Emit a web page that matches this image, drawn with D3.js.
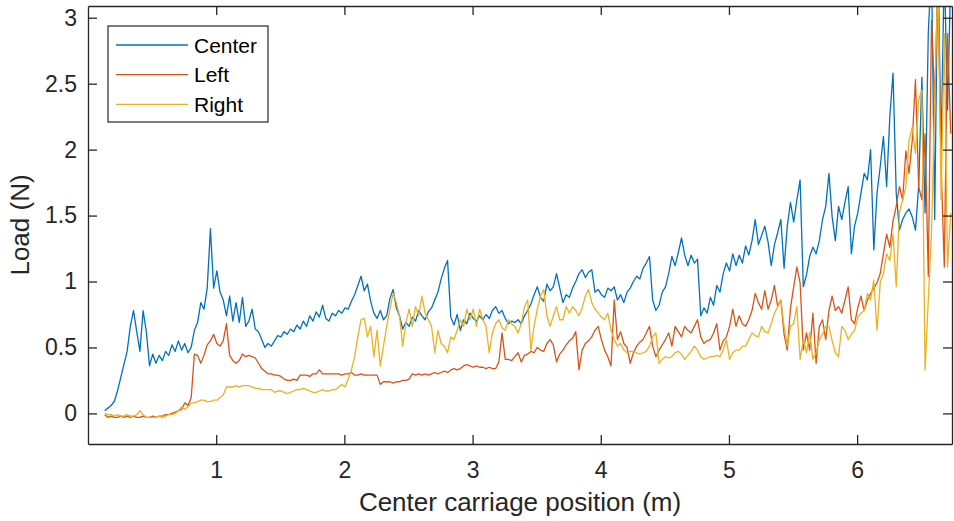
<!DOCTYPE html>
<html>
<head>
<meta charset="utf-8">
<script src="https://cdn.jsdelivr.net/npm/d3@7"></script>
<style>
  body { margin: 0; background: #fff; }
  svg { display: block; font-family: "Liberation Sans", Arial, sans-serif; }
</style>
</head>
<body>
<div id="main-container"></div>
<script>
// Sampling grid along the carriage (m)
const X_START = 0.13;
const X_STEP = 0.025;

// Load (N), one value per grid step
const CENTER = [
  0.02,0.04,0.06,0.09,0.17,0.27,0.37,0.47,0.66,0.78,
  0.62,0.47,0.78,0.62,0.36,0.45,0.38,0.44,0.40,0.47,
  0.44,0.52,0.47,0.55,0.48,0.53,0.46,0.50,0.63,0.69,
  0.84,0.79,0.95,1.40,0.95,1.08,0.92,0.86,0.74,0.89,
  0.70,0.84,0.69,0.88,0.66,0.70,0.79,0.64,0.62,0.56,
  0.50,0.53,0.51,0.55,0.59,0.58,0.62,0.60,0.64,0.62,
  0.67,0.64,0.70,0.66,0.74,0.70,0.77,0.73,0.82,0.72,
  0.70,0.76,0.74,0.78,0.76,0.80,0.79,0.85,0.90,0.97,
  1.04,0.93,0.98,0.85,0.76,0.72,0.78,0.71,0.74,0.87,
  0.94,0.80,0.74,0.64,0.69,0.66,0.73,0.70,0.78,0.74,
  0.71,0.77,0.80,0.86,0.92,1.02,1.10,1.16,0.73,0.67,
  0.75,0.63,0.71,0.68,0.76,0.72,0.70,0.74,0.71,0.75,
  0.72,0.78,0.81,0.76,0.78,0.72,0.68,0.70,0.69,0.71,
  0.68,0.74,0.78,0.83,0.90,0.96,0.88,0.85,0.98,0.93,
  0.96,1.06,0.95,0.84,0.90,0.88,0.95,1.00,1.06,1.09,
  1.03,1.07,1.09,0.92,0.94,0.90,0.88,0.95,0.93,0.96,
  0.86,0.90,0.84,0.92,0.95,1.00,1.04,1.02,1.10,1.14,
  1.19,0.86,0.78,0.82,0.92,0.96,1.06,1.19,1.12,1.22,
  1.33,1.20,1.12,1.20,1.14,1.17,0.74,0.80,0.76,0.88,
  0.82,0.97,0.92,1.06,1.14,1.08,1.21,1.12,1.20,1.14,
  1.27,1.20,1.31,1.47,1.28,1.35,1.42,1.30,1.12,1.28,
  1.37,1.47,1.10,1.42,1.60,1.45,1.62,1.77,0.96,1.05,
  1.19,1.26,1.21,1.31,1.47,1.57,1.82,1.49,1.31,1.57,
  1.47,1.60,1.72,1.21,1.42,1.52,1.67,1.82,1.77,2.00,
  1.24,1.67,1.87,2.10,1.72,2.25,2.58,1.67,1.39,1.47,
  1.52,1.55,1.49,1.39,1.72,2.55,1.52,2.88,3.40,1.47,
  3.50,2.00,3.40,2.30,3.30
];
const LEFT = [
  -0.01,-0.03,-0.02,-0.03,-0.03,-0.02,-0.03,-0.02,-0.03,-0.02,
  -0.03,-0.03,-0.02,-0.03,-0.03,-0.02,-0.03,-0.02,-0.02,-0.01,
  -0.01,0.00,0.01,0.02,0.03,0.08,0.06,0.12,0.45,0.44,
  0.38,0.44,0.52,0.55,0.60,0.53,0.51,0.55,0.68,0.44,
  0.40,0.38,0.40,0.45,0.43,0.44,0.43,0.42,0.38,0.34,
  0.32,0.30,0.30,0.29,0.29,0.28,0.26,0.25,0.25,0.26,
  0.25,0.29,0.29,0.29,0.28,0.30,0.30,0.33,0.30,0.30,
  0.30,0.30,0.30,0.30,0.29,0.30,0.30,0.31,0.29,0.29,
  0.30,0.29,0.29,0.29,0.29,0.29,0.22,0.24,0.24,0.24,
  0.23,0.24,0.24,0.25,0.25,0.26,0.30,0.29,0.30,0.29,
  0.30,0.29,0.30,0.31,0.30,0.31,0.32,0.31,0.33,0.34,
  0.33,0.34,0.36,0.37,0.36,0.35,0.36,0.35,0.35,0.34,
  0.35,0.34,0.34,0.39,0.61,0.41,0.41,0.40,0.43,0.46,
  0.39,0.44,0.45,0.47,0.46,0.50,0.48,0.47,0.53,0.56,
  0.52,0.39,0.45,0.48,0.52,0.55,0.57,0.62,0.33,0.48,
  0.53,0.55,0.58,0.63,0.66,0.56,0.48,0.43,0.36,0.86,
  0.56,0.62,0.53,0.50,0.38,0.46,0.51,0.54,0.56,0.61,
  0.66,0.51,0.43,0.48,0.52,0.56,0.61,0.51,0.66,0.62,
  0.58,0.66,0.63,0.61,0.66,0.71,0.58,0.53,0.55,0.56,
  0.61,0.68,0.48,0.55,0.58,0.66,0.79,0.66,0.74,0.68,
  0.66,0.71,0.78,0.91,0.84,0.79,0.93,0.79,0.86,0.97,
  0.81,0.86,0.60,0.48,0.80,0.96,1.11,0.99,0.48,0.61,
  0.48,0.76,0.38,0.66,0.71,0.56,0.78,0.89,0.78,0.81,
  0.76,0.86,0.96,0.71,0.68,0.80,0.89,0.78,0.86,0.91,
  0.95,0.99,1.06,1.21,1.36,1.26,1.46,1.57,1.72,1.62,
  1.99,1.82,2.07,2.53,1.72,1.62,2.12,1.04,2.98,2.38,
  3.30,1.87,1.11,2.88,2.12
];
const RIGHT = [
  0.00,-0.01,-0.01,-0.02,-0.01,-0.02,-0.02,-0.01,-0.02,-0.02,
  -0.01,0.02,-0.01,-0.03,-0.03,-0.03,-0.03,-0.02,-0.03,-0.02,
  -0.01,-0.01,0.00,0.02,0.05,0.03,0.05,0.08,0.08,0.09,
  0.10,0.10,0.09,0.09,0.10,0.10,0.12,0.14,0.20,0.20,
  0.20,0.21,0.20,0.21,0.21,0.21,0.20,0.19,0.19,0.18,
  0.18,0.18,0.18,0.16,0.17,0.17,0.16,0.15,0.16,0.17,
  0.18,0.18,0.19,0.18,0.17,0.16,0.16,0.17,0.18,0.17,
  0.17,0.18,0.18,0.20,0.22,0.20,0.26,0.33,0.43,0.58,
  0.71,0.72,0.58,0.66,0.43,0.63,0.36,0.51,0.66,0.79,
  0.91,0.84,0.74,0.51,0.69,0.79,0.66,0.81,0.74,0.89,
  0.76,0.71,0.66,0.46,0.63,0.53,0.51,0.46,0.58,0.56,
  0.63,0.71,0.66,0.79,0.71,0.79,0.66,0.79,0.71,0.66,
  0.46,0.61,0.68,0.71,0.65,0.63,0.71,0.68,0.66,0.61,
  0.68,0.81,0.86,0.48,0.66,0.79,0.89,0.94,0.74,0.66,
  0.74,0.81,0.71,0.71,0.81,0.76,0.81,0.78,0.74,0.80,
  0.89,0.94,0.84,0.79,0.76,0.73,0.71,0.76,0.63,0.56,
  0.51,0.53,0.48,0.46,0.47,0.47,0.46,0.45,0.46,0.47,
  0.51,0.58,0.61,0.38,0.41,0.43,0.42,0.43,0.46,0.47,
  0.45,0.41,0.44,0.47,0.51,0.48,0.43,0.41,0.42,0.43,
  0.43,0.44,0.43,0.48,0.56,0.41,0.46,0.48,0.48,0.51,
  0.51,0.56,0.61,0.59,0.58,0.66,0.62,0.61,0.68,0.76,
  0.81,0.86,0.66,0.51,0.66,0.68,0.81,0.41,0.56,0.46,
  0.61,0.41,0.46,0.56,0.60,0.66,0.66,0.55,0.46,0.43,
  0.66,0.63,0.56,0.60,0.63,0.73,0.76,0.78,0.91,0.86,
  1.01,0.63,0.99,1.06,1.21,1.16,1.36,0.96,1.52,1.62,
  1.72,2.07,2.17,1.97,2.38,2.45,0.33,0.86,1.36,2.38,
  3.30,1.62,2.88,1.11,1.52
];

const SERIES_NAMES = ['Center', 'Left', 'Right'];
const SERIES_VALUES = [CENTER, LEFT, RIGHT];
const COLORS = ['#0072BD', '#D95319', '#EDB120'];
const X_TICKS = [1, 2, 3, 4, 5, 6];
const Y_TICKS = [0, 0.5, 1, 1.5, 2, 2.5, 3];
const X_LABEL = 'Center carriage position (m)';
const Y_LABEL = 'Load (N)';

const WIDTH = 954, HEIGHT = 521;
const MARGIN = { top: 6, right: 2, bottom: 77, left: 88 };
const AXIS_COLOR = '#262626';
const TICK_LEN = 9;

const svg = d3.select('#main-container').append('svg')
  .attr('width', WIDTH)
  .attr('height', HEIGHT);

const x = d3.scaleLinear()
  .domain([0, 6.74])
  .range([MARGIN.left, WIDTH - MARGIN.right]);
const y = d3.scaleLinear()
  .domain([-0.232, 3.089])
  .range([HEIGHT - MARGIN.bottom, MARGIN.top]);

svg.append('clipPath').attr('id', 'plot-clip')
  .append('rect')
  .attr('x', MARGIN.left).attr('y', MARGIN.top)
  .attr('width', WIDTH - MARGIN.left - MARGIN.right)
  .attr('height', HEIGHT - MARGIN.top - MARGIN.bottom);

// lines
const line = d3.line()
  .x((d, i) => x(X_START + i * X_STEP))
  .y(d => y(d));

const plot = svg.append('g').attr('clip-path', 'url(#plot-clip)');
SERIES_VALUES.forEach((vals, k) => {
  plot.append('path')
    .datum(vals)
    .attr('fill', 'none')
    .attr('stroke', COLORS[k])
    .attr('stroke-width', 1.3)
    .attr('stroke-linejoin', 'round')
    .attr('d', line);
});

// axes (ticks inward, box on)
const fmt = d => String(d);
const styleAxis = g => {
  g.selectAll('path, line').attr('stroke', AXIS_COLOR).attr('stroke-width', 1.3);
  g.selectAll('text').attr('fill', AXIS_COLOR).style('font-size', '23px')
    .style('font-family', '"Liberation Sans", Arial, sans-serif');
};

svg.append('g')
  .attr('transform', `translate(0, ${HEIGHT - MARGIN.bottom})`)
  .call(d3.axisBottom(x).tickValues(X_TICKS).tickFormat(fmt)
    .tickSizeInner(-TICK_LEN).tickSizeOuter(0).tickPadding(18))
  .call(styleAxis);
svg.append('g')
  .attr('transform', `translate(0, ${MARGIN.top})`)
  .call(d3.axisTop(x).tickValues(X_TICKS).tickFormat('')
    .tickSizeInner(-TICK_LEN).tickSizeOuter(0))
  .call(styleAxis);
svg.append('g')
  .attr('transform', `translate(${MARGIN.left}, 0)`)
  .call(d3.axisLeft(y).tickValues(Y_TICKS).tickFormat(fmt)
    .tickSizeInner(-TICK_LEN).tickSizeOuter(0).tickPadding(11))
  .call(styleAxis);
svg.append('g')
  .attr('transform', `translate(${WIDTH - MARGIN.right}, 0)`)
  .call(d3.axisRight(y).tickValues(Y_TICKS).tickFormat('')
    .tickSizeInner(-TICK_LEN).tickSizeOuter(0))
  .call(styleAxis);

// axis labels
svg.append('text')
  .attr('x', (MARGIN.left + WIDTH - MARGIN.right) / 2)
  .attr('y', 511)
  .attr('text-anchor', 'middle')
  .attr('fill', AXIS_COLOR)
  .style('font-size', '26px')
  .text(X_LABEL);
svg.append('text')
  .attr('transform', `translate(29, ${(MARGIN.top + HEIGHT - MARGIN.bottom) / 2}) rotate(-90)`)
  .attr('text-anchor', 'middle')
  .attr('fill', AXIS_COLOR)
  .style('font-size', '26px')
  .text(Y_LABEL);

// legend
const legend = svg.append('g').attr('transform', 'translate(108, 26)');
legend.append('rect')
  .attr('width', 160).attr('height', 96)
  .attr('fill', '#fff')
  .attr('stroke', AXIS_COLOR)
  .attr('stroke-width', 1.2);
const rows = legend.selectAll('g.row')
  .data(SERIES_NAMES)
  .join('g')
  .attr('class', 'row')
  .attr('transform', (d, i) => `translate(0, ${19 + i * 29.7})`);
rows.append('line')
  .attr('x1', 8).attr('x2', 80)
  .attr('stroke', (d, i) => COLORS[i])
  .attr('stroke-width', 1.3);
rows.append('text')
  .attr('x', 86).attr('y', 7.5)
  .attr('fill', '#000')
  .style('font-size', '21px')
  .text(d => d);
</script>
</body>
</html>
